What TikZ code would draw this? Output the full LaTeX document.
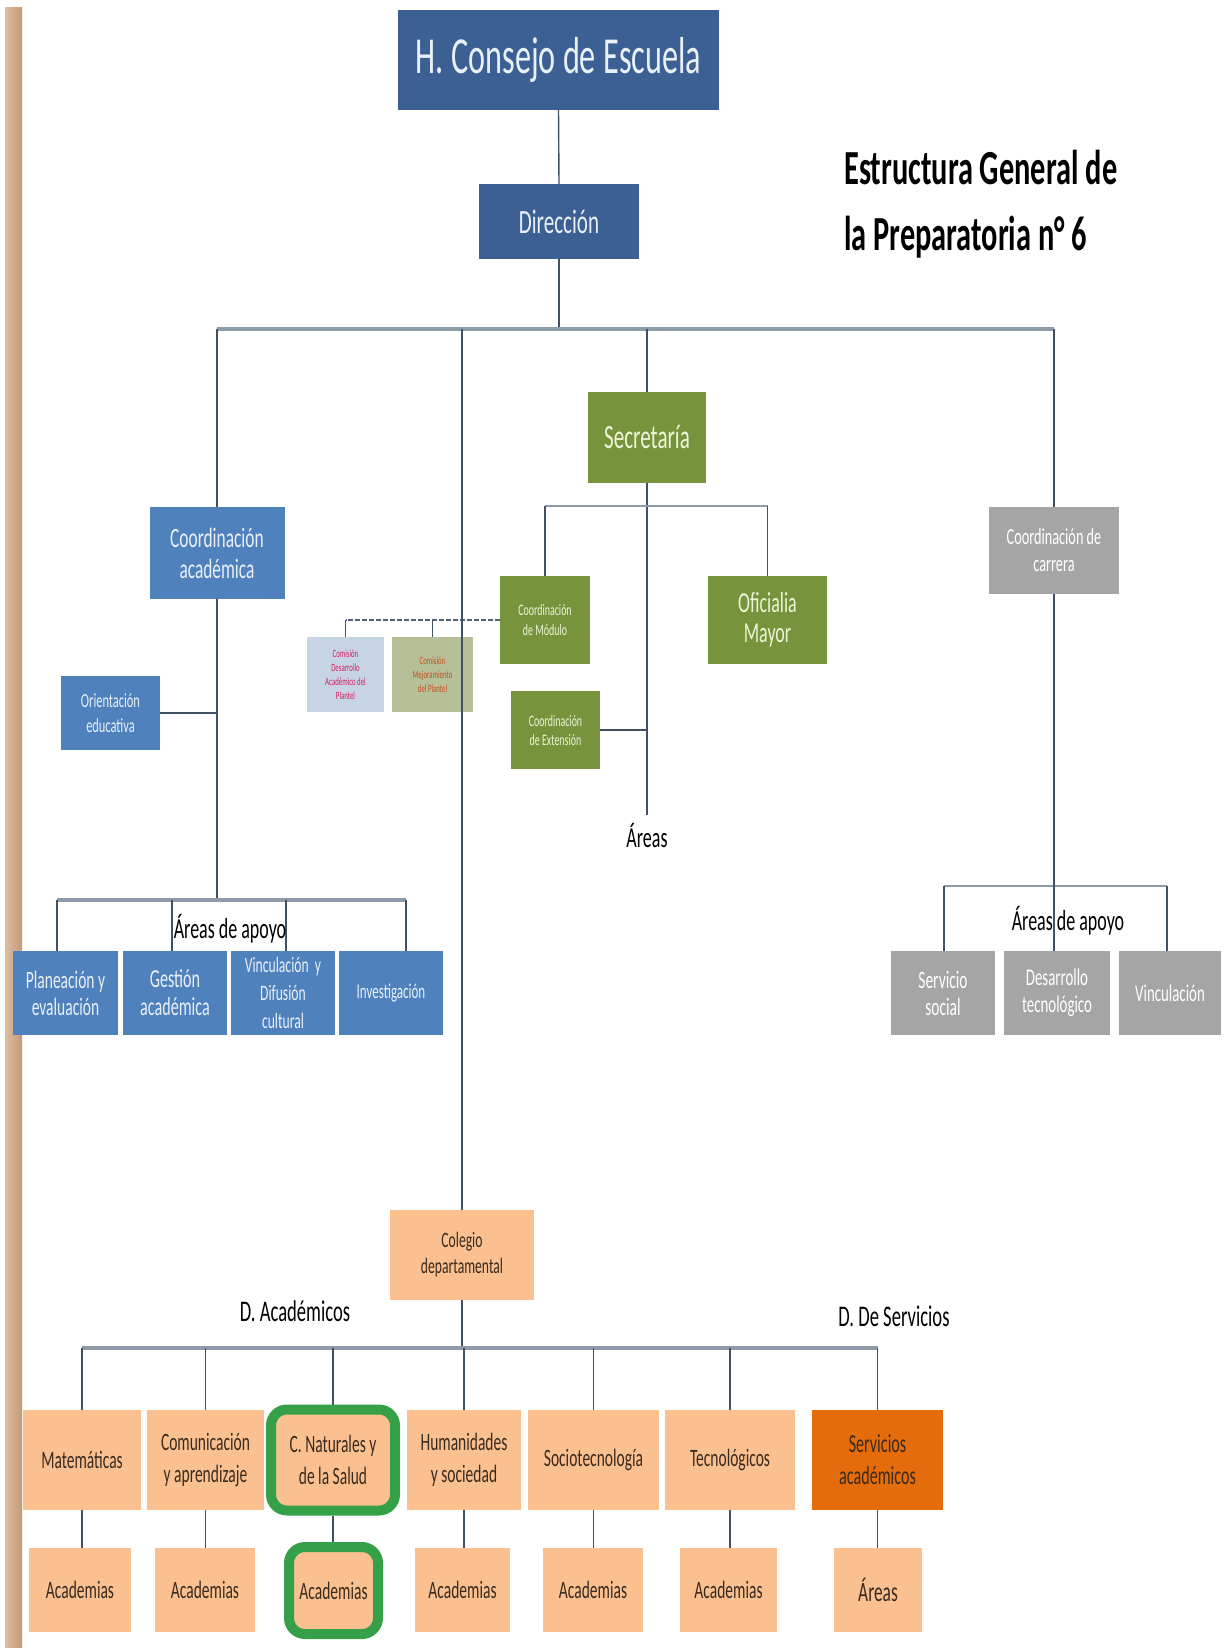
\documentclass[tikz,border=0pt]{standalone}
\usepackage{fontspec}
\setmainfont[FakeStretch=0.62]{Carlito}
\usetikzlibrary{calc}
\definecolor{dkb}{HTML}{3C6093}
\definecolor{mdb}{HTML}{4F81BD}
\definecolor{grn}{HTML}{77933C}
\definecolor{gry}{HTML}{A5A5A5}
\definecolor{pch}{HTML}{FAC090}
\definecolor{org}{HTML}{E46C0A}
\definecolor{ring}{HTML}{35A047}
\definecolor{txb}{HTML}{EAF0F8}
\definecolor{txg}{HTML}{EEF4D8}
\definecolor{txd}{HTML}{3A2A1E}
\definecolor{busc}{HTML}{8E9CAA}
\definecolor{linc}{HTML}{415163}
\definecolor{cm1}{HTML}{C6D4E6}
\definecolor{cm2}{HTML}{B5BF98}
\definecolor{cm1t}{HTML}{D81B60}
\definecolor{cm2t}{HTML}{C8501E}
\definecolor{strpA}{HTML}{DDBDA2}
\definecolor{strpB}{HTML}{C49A78}
\newcommand\fz[2]{\fontsize{#1pt}{#2pt}\selectfont}
\pgfdeclarelayer{bg}
\pgfdeclarelayer{paper}
\pgfsetlayers{paper,bg,main}
\tikzset{
  bx/.style={inner sep=1pt, align=center},
  bxdb/.style={bx, fill=dkb, text=txb},
  bxmb/.style={bx, fill=mdb, text=txb},
  bxgr/.style={bx, fill=grn, text=txg},
  bxgy/.style={bx, fill=gry, text=white},
  bxpc/.style={bx, fill=pch, text=txd},
  ringbox/.style={draw=ring, line width=10pt, rounded corners=16pt},
  cline/.style={draw=linc, line width=1.4pt},
  busline/.style={draw=busc, line width=3.5pt},
  dline/.style={draw=linc!90, line width=2.6pt, dash pattern=on 5pt off 2pt},
  lbl/.style={inner sep=0pt, text=black},
}
\begin{document}
\begin{tikzpicture}[x=1pt,y=-1pt]
\useasboundingbox (0,0) rectangle (1225,1648);
\begin{pgfonlayer}{paper}
\fill[white] (0,0) rectangle (1225,1648);
\shade[left color=strpA, right color=strpB] (5,8) rectangle (22,1648);
\end{pgfonlayer}

% top
\node[bxdb, minimum width=321, minimum height=100, font=\fz{52}{60}] (consejo) at (558.5,60) {H. Consejo de Escuela};
\node[bxdb, minimum width=160, minimum height=75, font=\fz{34}{40}] (dir) at (559,221.5) {Dirección};
\node[lbl, anchor=base west, font=\bfseries\fz{49}{55}] (title1) at (844,185) {Estructura General de};
\node[lbl, anchor=base west, font=\bfseries\fz{49}{55}] (title2) at (844,250) {la Preparatoria n° 6};

% second level
\node[bxgr, minimum width=118, minimum height=91, font=\fz{34}{40}] (sec) at (647,437.5) {Secretaría};
\node[bxmb, minimum width=135, minimum height=92, font=\fz{28}{31}] (coa) at (217,553) {Coordinación\\académica};
\node[bxgy, minimum width=130, minimum height=87, font=\fz{23}{27}] (coc) at (1054,550.5) {Coordinación de\\carrera};

% secretaria children
\node[bxgr, minimum width=90, minimum height=88, font=\fz{16}{20}] (cmod) at (545,620) {Coordinación\\de Módulo};
\node[bxgr, minimum width=119, minimum height=88, font=\fz{29}{30}] (ofm) at (767.5,620) {Oficialia\\Mayor};
\node[bxgr, minimum width=89, minimum height=78, font=\fz{16}{19}] (cext) at (555.5,730) {Coordinación\\de Extensión};
\node[bx, fill=cm1, text=cm1t, minimum width=77, minimum height=75, font=\fz{11}{14}] (com1) at (345.5,674.5) {Comisión\\Desarrollo\\Académico del\\Plantel};
\node[bx, fill=cm2, text=cm2t, minimum width=81, minimum height=75, font=\fz{11}{14}] (com2) at (432.5,674.5) {Comisión\\Mejoramiento\\del Plantel};
\node[lbl, anchor=base, font=\fz{29}{32}] (areas) at (647,847) {Áreas};

% left branch
\node[bxmb, minimum width=99, minimum height=74, font=\fz{20}{25}] (ori) at (110.5,713) {Orientación\\educativa};
\node[bxmb, minimum width=105, minimum height=84, font=\fz{25}{27}] (pla) at (65.5,993) {Planeación y\\evaluación};
\node[bxmb, minimum width=104, minimum height=84, font=\fz{26}{28}] (ges) at (175,993) {Gestión\\académica};
\node[bxmb, minimum width=104, minimum height=84, font=\fz{22}{28}] (vin) at (283,993) {Vinculación~~y\\Difusión\\cultural};
\node[bxmb, minimum width=104, minimum height=84, font=\fz{21}{25}] (inv) at (391,993) {Investigación};
\node[lbl, anchor=base, font=\fz{29}{32}] (aapL) at (230,938) {Áreas de apoyo};

% right branch
\node[bxgy, minimum width=104, minimum height=84, font=\fz{25}{27}] (ss) at (943,993) {Servicio\\social};
\node[bxgy, minimum width=106, minimum height=84, font=\fz{24}{27}] (dt) at (1057,993) {Desarrollo\\tecnológico};
\node[bxgy, minimum width=102, minimum height=84, font=\fz{24}{27}] (vr) at (1170,993) {Vinculación};
\node[lbl, anchor=base, font=\fz{29}{32}] (aapR) at (1068,930) {Áreas de apoyo};

% bottom
\node[bxpc, minimum width=144, minimum height=90, font=\fz{22}{26}] (col) at (462,1255) {Colegio\\departamental};
\node[lbl, anchor=base, font=\fz{30}{32}] (dac) at (295,1321) {D. Académicos};
\node[lbl, anchor=base, font=\fz{30}{32}] (dse) at (894,1326) {D. De Servicios};

\node[bxpc, minimum width=118, minimum height=100, font=\fz{25}{32}] (mat) at (82,1460) {Matemáticas};
\node[bxpc, minimum width=117, minimum height=100, font=\fz{25}{32}] (cya) at (205.5,1460) {Comunicación\\y aprendizaje};
\node[bxpc, ringbox, minimum width=124, minimum height=101, font=\fz{25}{32}] (cn) at (333,1460) {C. Naturales y\\de la Salud};
\node[bxpc, minimum width=114, minimum height=100, font=\fz{25}{32}] (hum) at (464,1460) {Humanidades\\y sociedad};
\node[bxpc, minimum width=131, minimum height=100, font=\fz{25}{32}] (soc) at (593.5,1460) {Sociotecnología};
\node[bxpc, minimum width=130, minimum height=100, font=\fz{25}{32}] (tec) at (730,1460) {Tecnológicos};
\node[bx, fill=org, text=txd, minimum width=131, minimum height=100, font=\fz{26}{32}] (ser) at (877.5,1460) {Servicios\\académicos};

\node[bxpc, minimum width=102, minimum height=84, font=\fz{25}{30}] (a1) at (80,1590) {Academias};
\node[bxpc, minimum width=100, minimum height=84, font=\fz{25}{30}] (a2) at (205,1590) {Academias};
\node[bxpc, ringbox, minimum width=89, minimum height=87, font=\fz{25}{30}] (a3) at (333.5,1590.5) {Academias};
\node[bxpc, minimum width=95, minimum height=84, font=\fz{25}{30}] (a4) at (462.5,1590) {Academias};
\node[bxpc, minimum width=100, minimum height=84, font=\fz{25}{30}] (a5) at (593,1590) {Academias};
\node[bxpc, minimum width=97, minimum height=84, font=\fz{25}{30}] (a6) at (728.5,1590) {Academias};
\node[bxpc, minimum width=88, minimum height=84, font=\fz{28}{30}] (a7) at (878,1590) {Áreas};

% coordinates
\coordinate (busL) at (217,329);
\coordinate (busR) at (1054,329);
\coordinate (sb) at (647,506);
\coordinate (aend) at (647,815);
\coordinate (lb) at (217,900);
\coordinate (lbL) at (57,900);
\coordinate (lb2) at (172,900);
\coordinate (lb3) at (286,900);
\coordinate (lbR) at (406,900);
\coordinate (rbL) at (944,886);
\coordinate (rbR) at (1167,886);
\coordinate (bb) at (462,1348);

\begin{pgfonlayer}{bg}
\draw[cline] (consejo.south) -- (dir.north);
\draw[cline] (dir.south) -- (dir.south |- busL);
\draw[busline] (busL) -- (busR);
\draw[cline] (busL) -- (coa.north);
\draw[cline] (busR) -- (coc.north);
\draw[cline] (sec.north |- busL) -- (sec.north);
% secretaria
\draw[cline] (sec.south) -- (aend);
\draw[busline, line width=2.5pt] (cmod.north |- sb) -- (ofm.north |- sb);
\draw[cline] (cmod.north |- sb) -- (cmod.north);
\draw[cline] (ofm.north |- sb) -- (ofm.north);
\draw[cline] (cext.east) -- (cext.east -| sec.south);
\draw[dline] (cmod.west) -- (cmod.west -| com1.north);
\draw[cline] (cmod.west -| com1.north) -- (com1.north);
\draw[cline] (cmod.west -| com2.north) -- (com2.north);
% left
\draw[cline] (coa.south) -- (lb);
\draw[cline] (ori.east) -- (ori.east -| lb);
\draw[busline] (lbL) -- (lbR);
\draw[cline] (lbL) -- (lbL |- pla.north);
\draw[cline] (lb2) -- (lb2 |- ges.north);
\draw[cline] (lb3) -- (lb3 |- vin.north);
\draw[cline] (lbR) -- (lbR |- inv.north);
% right
\draw[busline, line width=2.5pt] (rbL) -- (rbR);
\draw[cline] (rbL) -- (rbL |- ss.north);
\draw[cline] (rbR) -- (rbR |- vr.north);
% bottom
\draw[cline] (col.south) -- (bb);
\draw[busline, line width=4.5pt] (mat.north |- bb) -- (ser.north |- bb);
\foreach \n in {mat,cya,cn,hum,soc,tec,ser} {
  \draw[cline] (\n.north |- bb) -- (\n.north);
}
\foreach \u/\l in {mat/a1,cya/a2,cn/a3,hum/a4,soc/a5,tec/a6,ser/a7} {
  \draw[cline] (\u.south) -- (\u.south |- \l.north);
}
\end{pgfonlayer}
% lines drawn over boxes/text
\draw[cline] (col.north |- busL) -- (col.north);
\draw[cline] (coc.south) -- (coc.south |- dt.north);
\end{tikzpicture}
\end{document}
